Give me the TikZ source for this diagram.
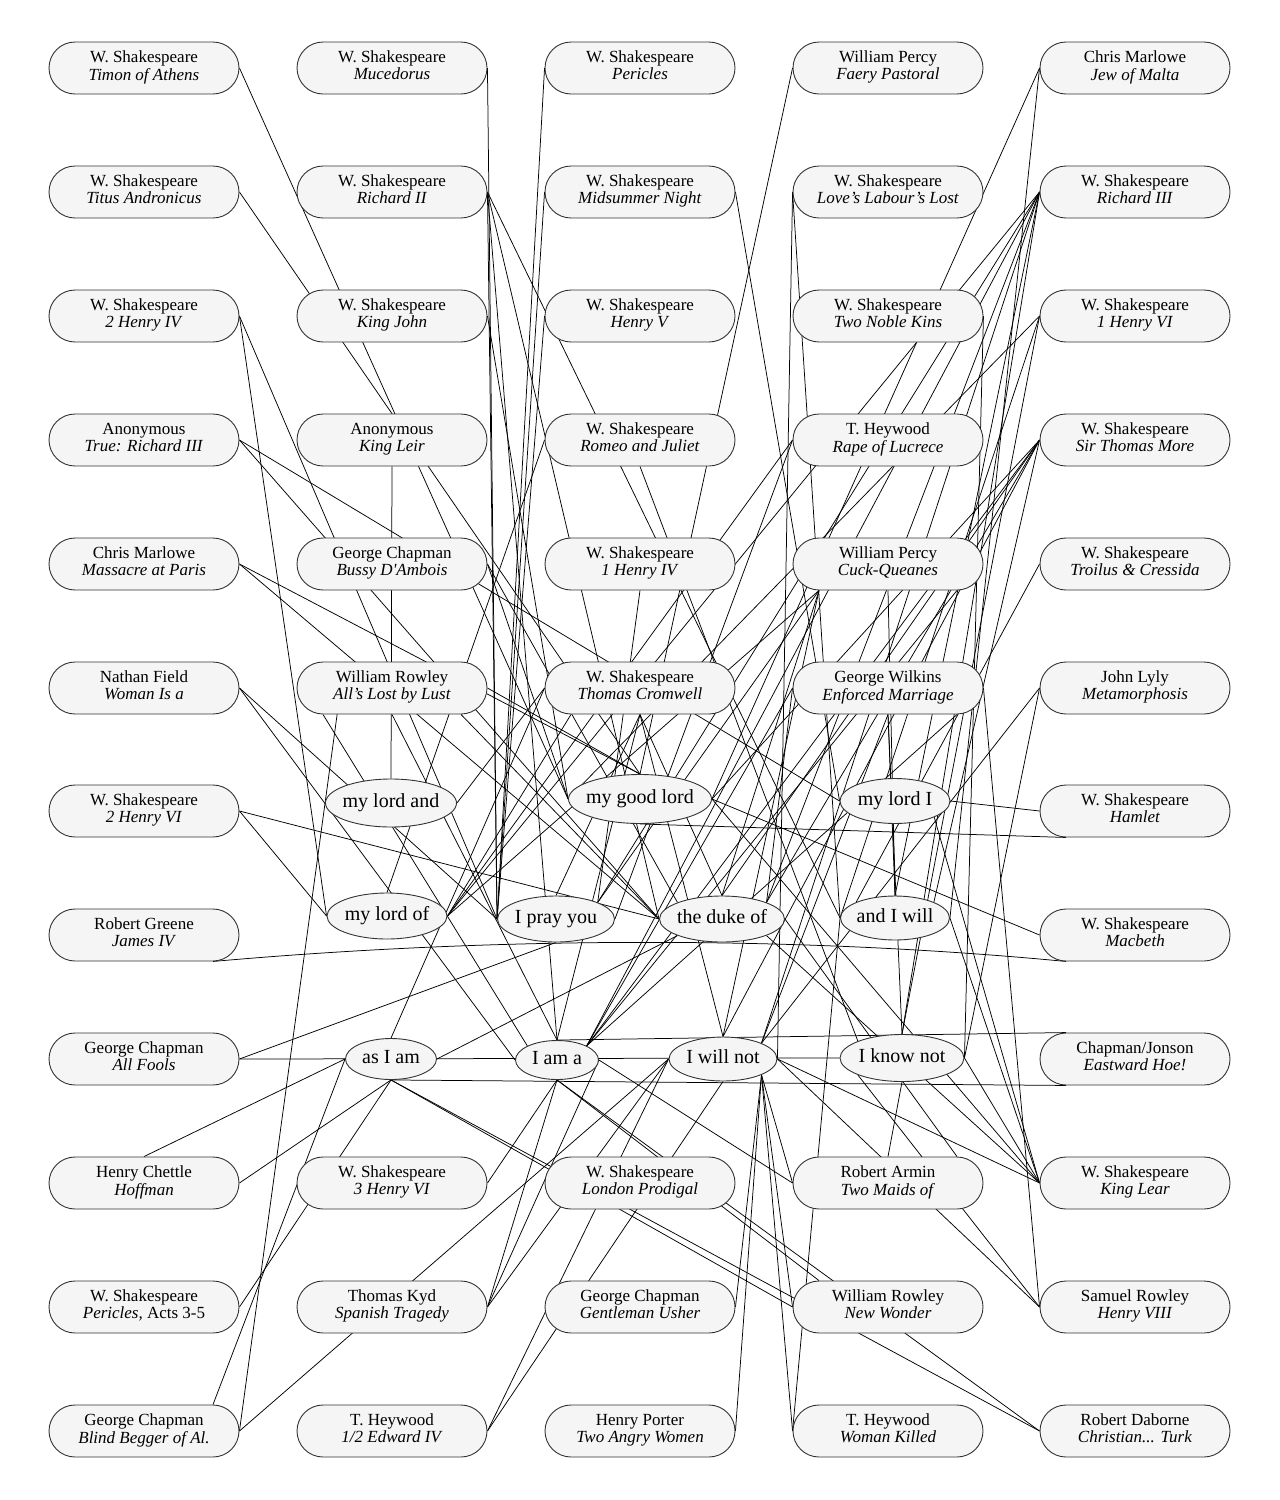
\documentclass[tikz,border=0pt]{standalone}
\usepackage{fontspec}
\setmainfont{Liberation Serif}
\usetikzlibrary{shapes.misc, shapes.geometric, calc}
\pgfdeclarelayer{bg}
\pgfsetlayers{bg,main}

\begin{document}
\begin{tikzpicture}[x=1pt, y=-1pt,
    play/.style = {draw=black!80, line width=0.9pt, fill=black!4, rounded rectangle, minimum width=190pt, minimum height=52pt, inner sep=0pt, align=center, font=\fontsize{17}{17}\selectfont},
    phrase/.style = {draw=black!80, line width=0.9pt, fill=black!4, ellipse, inner sep=0pt, font=\fontsize{20}{20}\selectfont},
    link/.style = {line width=0.75pt}]
\useasboundingbox (0,0) rectangle (1280,1500);

% plays
\node[play] at (144,68) (timon) {\strut W. Shakespeare\\\strut\textit{Timon of Athens}};
\node[play] at (392,68) (mucedorus) {\strut W. Shakespeare\\\strut\textit{Mucedorus}};
\node[play] at (640,68) (pericles) {\strut W. Shakespeare\\\strut\textit{Pericles}};
\node[play] at (888,68) (faery) {\strut William Percy\\\strut\textit{Faery Pastoral}};
\node[play] at (1135,68) (jew) {\strut Chris Marlowe\\\strut\textit{Jew of Malta}};

\node[play] at (144,192) (titus) {\strut W. Shakespeare\\\strut\textit{Titus Andronicus}};
\node[play] at (392,192) (richardii) {\strut W. Shakespeare\\\strut\textit{Richard II}};
\node[play] at (640,192) (midsummer) {\strut W. Shakespeare\\\strut\textit{Midsummer Night}};
\node[play] at (888,192) (lll) {\strut W. Shakespeare\\\strut\textit{Love's Labour's Lost}};
\node[play] at (1135,192) (richardiii) {\strut W. Shakespeare\\\strut\textit{Richard III}};

\node[play] at (144,316) (henryivb) {\strut W. Shakespeare\\\strut\textit{2 Henry IV}};
\node[play] at (392,316) (kingjohn) {\strut W. Shakespeare\\\strut\textit{King John}};
\node[play] at (640,316) (henryv) {\strut W. Shakespeare\\\strut\textit{Henry V}};
\node[play] at (888,316) (kinsmen) {\strut W. Shakespeare\\\strut\textit{Two Noble Kins}};
\node[play] at (1135,316) (henryvia) {\strut W. Shakespeare\\\strut\textit{1 Henry VI}};

\node[play] at (144,440) (truerich) {\strut Anonymous\\\strut\textit{True: Richard III}};
\node[play] at (392,440) (kingleir) {\strut Anonymous\\\strut\textit{King Leir}};
\node[play] at (640,440) (romeo) {\strut W. Shakespeare\\\strut\textit{Romeo and Juliet}};
\node[play] at (888,440) (lucrece) {\strut T. Heywood\\\strut\textit{Rape of Lucrece}};
\node[play] at (1135,440) (more) {\strut W. Shakespeare\\\strut\textit{Sir Thomas More}};

\node[play] at (144,564) (massacre) {\strut Chris Marlowe\\\strut\textit{Massacre at Paris}};
\node[play] at (392,564) (bussy) {\strut George Chapman\\\strut\textit{Bussy D\textquotesingle Ambois}};
\node[play] at (640,564) (henryiva) {\strut W. Shakespeare\\\strut\textit{1 Henry IV}};
\node[play] at (888,564) (cuck) {\strut William Percy\\\strut\textit{Cuck-Queanes}};
\node[play] at (1135,564) (troilus) {\strut W. Shakespeare\\\strut\textit{Troilus \& Cressida}};

\node[play] at (144,688) (woman) {\strut Nathan Field\\\strut\textit{Woman Is a}};
\node[play] at (392,688) (allslost) {\strut William Rowley\\\strut\textit{All's Lost by Lust}};
\node[play] at (640,688) (cromwell) {\strut W. Shakespeare\\\strut\textit{Thomas Cromwell}};
\node[play] at (888,688) (enforced) {\strut George Wilkins\\\strut\textit{Enforced Marriage}};
\node[play] at (1135,688) (metamorph) {\strut John Lyly\\\strut\textit{Metamorphosis}};

\node[play] at (144,811) (henryvib) {\strut W. Shakespeare\\\strut\textit{2 Henry VI}};
\node[play] at (1135,811) (hamlet) {\strut W. Shakespeare\\\strut\textit{Hamlet}};
\node[play] at (144,935) (james) {\strut Robert Greene\\\strut\textit{James IV}};
\node[play] at (1135,935) (macbeth) {\strut W. Shakespeare\\\strut\textit{Macbeth}};
\node[play] at (144,1059) (allfools) {\strut George Chapman\\\strut\textit{All Fools}};
\node[play] at (1135,1059) (eastward) {\strut Chapman/Jonson\\\strut\textit{Eastward Hoe!}};

\node[play] at (144,1183) (hoffman) {\strut Henry Chettle\\\strut\textit{Hoffman}};
\node[play] at (392,1183) (henryvic) {\strut W. Shakespeare\\\strut\textit{3 Henry VI}};
\node[play] at (640,1183) (prodigal) {\strut W. Shakespeare\\\strut\textit{London Prodigal}};
\node[play] at (888,1183) (maids) {\strut Robert Armin\\\strut\textit{Two Maids of}};
\node[play] at (1135,1183) (lear) {\strut W. Shakespeare\\\strut\textit{King Lear}};

\node[play] at (144,1307) (pericab) {\strut W. Shakespeare\\\strut\textit{Pericles,} Acts 3-5};
\node[play] at (392,1307) (kyd) {\strut Thomas Kyd\\\strut\textit{Spanish Tragedy}};
\node[play] at (640,1307) (usher) {\strut George Chapman\\\strut\textit{Gentleman Usher}};
\node[play] at (888,1307) (wonder) {\strut William Rowley\\\strut\textit{New Wonder}};
\node[play] at (1135,1307) (rowley) {\strut Samuel Rowley\\\strut\textit{Henry VIII}};

\node[play] at (144,1431) (blind) {\strut George Chapman\\\strut\textit{Blind Begger of Al.}};
\node[play] at (392,1431) (edward) {\strut T. Heywood\\\strut\textit{1/2 Edward IV}};
\node[play] at (640,1431) (porter) {\strut Henry Porter\\\strut\textit{Two Angry Women}};
\node[play] at (888,1431) (killed) {\strut T. Heywood\\\strut\textit{Woman Killed}};
\node[play] at (1135,1431) (daborne) {\strut Robert Daborne\\\strut\textit{Christian... Turk}};

% phrases
\node[phrase, minimum width=131pt, minimum height=48pt] at (391,803) (mla) {\makebox[0pt]{\strut my lord and}};
\node[phrase, minimum width=143pt, minimum height=49pt] at (640,799) (mgl) {\makebox[0pt]{\strut my good lord}};
\node[phrase, minimum width=110pt, minimum height=45pt] at (895,801) (mli) {\makebox[0pt]{\strut my lord I}};
\node[phrase, minimum width=120pt, minimum height=46pt] at (387,916) (mlo) {\makebox[0pt]{\strut my lord of}};
\node[phrase, minimum width=117pt, minimum height=46pt] at (556,919) (ipy) {\makebox[0pt]{\strut I pray you}};
\node[phrase, minimum width=125pt, minimum height=46pt] at (722,919) (tdo) {\makebox[0pt]{\strut the duke of}};
\node[phrase, minimum width=109pt, minimum height=44pt] at (895,918) (aiw) {\makebox[0pt]{\strut and I will}};
\node[phrase, minimum width=91pt, minimum height=41pt] at (391,1059) (aia) {\makebox[0pt]{\strut as I am}};
\node[phrase, minimum width=83pt, minimum height=39pt] at (557,1060) (iaa) {\makebox[0pt]{\strut I am a}};
\node[phrase, minimum width=108pt, minimum height=44pt] at (723,1059) (iwn) {\makebox[0pt]{\strut I will not}};
\node[phrase, minimum width=124pt, minimum height=47pt] at (902,1058) (ikn) {\makebox[0pt]{\strut I know not}};

\begin{pgfonlayer}{bg}
% left column
\draw[link] (timon.east) -- (mgl.west);
\draw[link] (titus.east) -- (mgl.north);
\draw[link] (henryivb.east) -- (mlo.west);
\draw[link] (henryivb.east) -- (ipy.west);
\draw[link] (truerich.east) -- (tdo.west);
\draw[link] (truerich.east) -- (mli.west);
\draw[link] (massacre.east) -- (mgl.north);
\draw[link] (massacre.east) -- (tdo.west);
\draw[link] (woman.east) -- (iaa.west);
\draw[link] (woman.east) -- (ipy.west);
\draw[link] (henryvib.east) -- (mlo.west);
\draw[link] (henryvib.east) -- (tdo.west);
\draw[link] (james.south east) .. controls (500,936) and (800,936) .. (macbeth.south west);
\draw[link] (allfools.east) -- (ikn.west);
\draw[link] (allfools.east) -- (ipy.south);
\draw[link] (hoffman.north) -- (aia.west);
\draw[link] (hoffman.east) -- (aia.south);
\draw[link] (pericab.east) -- (aia.south);
\draw[link] (blind.north east) -- (aia.west);
\draw[link] (blind.east) -- ($(blind.east)!1.15!(mla.west)$);
\draw[link] (blind.east) -- (iwn.west);
% second column
\draw[link] (mucedorus.east) -- (ipy.west);
\draw[link] (richardii.east) -- (ipy.west);
\draw[link] (richardii.east) -- (tdo.west);
\draw[link] (richardii.east) -- (iaa.north);
\draw[link] (richardii.east) -- (aiw.west);
\draw[link] (kingjohn.east) -- (mgl.west);
\draw[link] (kingleir.south) -- (mla.north);
\draw[link] (bussy.east) -- (mgl.west);
\draw[link] (bussy.east) -- (tdo.north west);
\draw[link] (allslost.east) -- (mgl.north);
\draw[link] (allslost.south east) -- (tdo.west);
\draw[link] (allslost.south) -- (iaa.north);
\draw[link] (allslost.south west) -- (iaa.north west);
\draw[link] (aia.east) -- (tdo.south west);
\draw[link] (henryvic.east) -- (iaa.south);
\draw[link] (kyd.east) -- (iaa.south);
\draw[link] (kyd.east) -- (iaa.east);
\draw[link] (kyd.east) -- (iwn.west);
\draw[link] (edward.east) -- (iwn.south);
\draw[link] (edward.east) -- (iwn.west);
% middle column
\draw[link] (pericles.west) -- (ipy.west);
\draw[link] (midsummer.west) -- (ipy.west);
\draw[link] (midsummer.east) -- (mli.west);
\draw[link] (henryv.west) -- (ipy.west);
\draw[link] (romeo.west) -- (mlo.north);
\draw[link] (romeo.south) -- (ikn.north west);
\draw[link] (henryiva.south) -- (ipy.north east);
\draw[link] (cromwell.west) -- (mla.east);
\draw[link] (cromwell.west) -- (aia.north);
\draw[link] (cromwell.south west) -- (mlo.east);
\draw[link] (cromwell.south) -- (ipy.north);
\draw[link] (cromwell.south) -- (tdo.north);
\draw[link] (cromwell.south) -- (iaa.north);
\draw[link] (cromwell.south) -- (iwn.north);
\draw[link] (usher.east) -- (iwn.south east);
\draw[link] (porter.east) -- (iwn.south east);
% fourth column
\draw[link] (faery.west) -- (mgl.north);
\draw[link] (lll.west) -- (iwn.east);
\draw[link] (lll.west) -- (aiw.west);
\draw[link] (kinsmen.east) -- (ikn.east);
\draw[link] (lucrece.west) -- (mlo.east);
\draw[link] (lucrece.west) -- (ipy.east);
\draw[link] (cuck.south west) -- (ipy.north east);
\draw[link] (cuck.south west) -- (tdo.north);
\draw[link] (cuck.south west) -- (iwn.north);
\draw[link] (cuck.south) -- (aiw.north);
\draw[link] (cuck.south west) -- (mlo.east);
\draw[link] (cuck.south east) -- (iaa.north east);
\draw[link] (enforced.west) -- (tdo.north east);
\draw[link] (enforced.west) -- (iaa.north east);
\draw[link] (enforced.south) -- (aiw.north);
\draw[link] (enforced.south) -- (iwn.north east);
\draw[link] (enforced.south) -- (ikn.north);
\draw[link] (enforced.south east) -- (iaa.north east);
\draw[link] (enforced.east) -- (rowley.west);
\draw[link] (maids.west) -- (iwn.south east);
\draw[link] (maids.west) -- (iaa.east);
\draw[link] (maids.north) -- (ikn.south);
\draw[link] (tdo.east) -- (maids.north east);
\draw[link] (wonder.west) -- (aia.south);
\draw[link] (wonder.west) -- (iwn.south east);
\draw[link] (wonder.north west) -- (iaa.south);
\draw[link] (killed.west) -- (iwn.south east);
\draw[link] (killed.west) -- (aiw.west);
% right column
\draw[link] (jew.west) -- (mgl.east);
\draw[link] (jew.west) -- (aiw.east);
\draw[link] (richardiii.west) -- (mlo.east);
\draw[link] (richardiii.west) -- (iaa.north east);
\draw[link] (richardiii.west) -- (ipy.north east);
\draw[link] (richardiii.west) -- (tdo.north east);
\draw[link] (richardiii.west) -- (iwn.north east);
\draw[link] (richardiii.west) -- (aiw.north);
\draw[link] (richardiii.west) -- (ikn.north);
\draw[link] (henryvia.west) -- (mgl.west);
\draw[link] (henryvia.west) -- (aiw.west);
\draw[link] (henryvia.west) -- (ikn.north);
\draw[link] (more.west) -- (mgl.east);
\draw[link] (more.west) -- (tdo.north);
\draw[link] (more.west) -- (tdo.north east);
\draw[link] (more.west) -- (iwn.north);
\draw[link] (more.west) -- (iaa.north east);
\draw[link] (more.west) -- (aiw.north east);
\draw[link] (troilus.west) -- (aiw.north west);
\draw[link] (metamorph.west) -- (iwn.north east);
\draw[link] (metamorph.west) -- (ikn.east);
\draw[link] (hamlet.west) -- (mli.east);
\draw[link] (hamlet.south west) -- (mgl.south);
\draw[link] (macbeth.west) -- (mgl.east);
\draw[link] (eastward.north west) -- (iaa.north);
\draw[link] (eastward.south west) -- (aia.south);
\draw[link] (lear.west) -- (mgl.east);
\draw[link] (lear.west) -- (tdo.south east);
\draw[link] (lear.west) -- (iwn.east);
\draw[link] (lear.west) -- (ikn.east);
\draw[link] (lear.west) -- (mli.south east);
\draw[link] (lear.west) -- (aiw.east);
\draw[link] (rowley.west) -- (ikn.south west);
\draw[link] (rowley.west) -- (iwn.east);
\draw[link] (daborne.west) -- (aia.south);
\draw[link] (daborne.west) -- (iaa.south);
\end{pgfonlayer}
\end{tikzpicture}
\end{document}
